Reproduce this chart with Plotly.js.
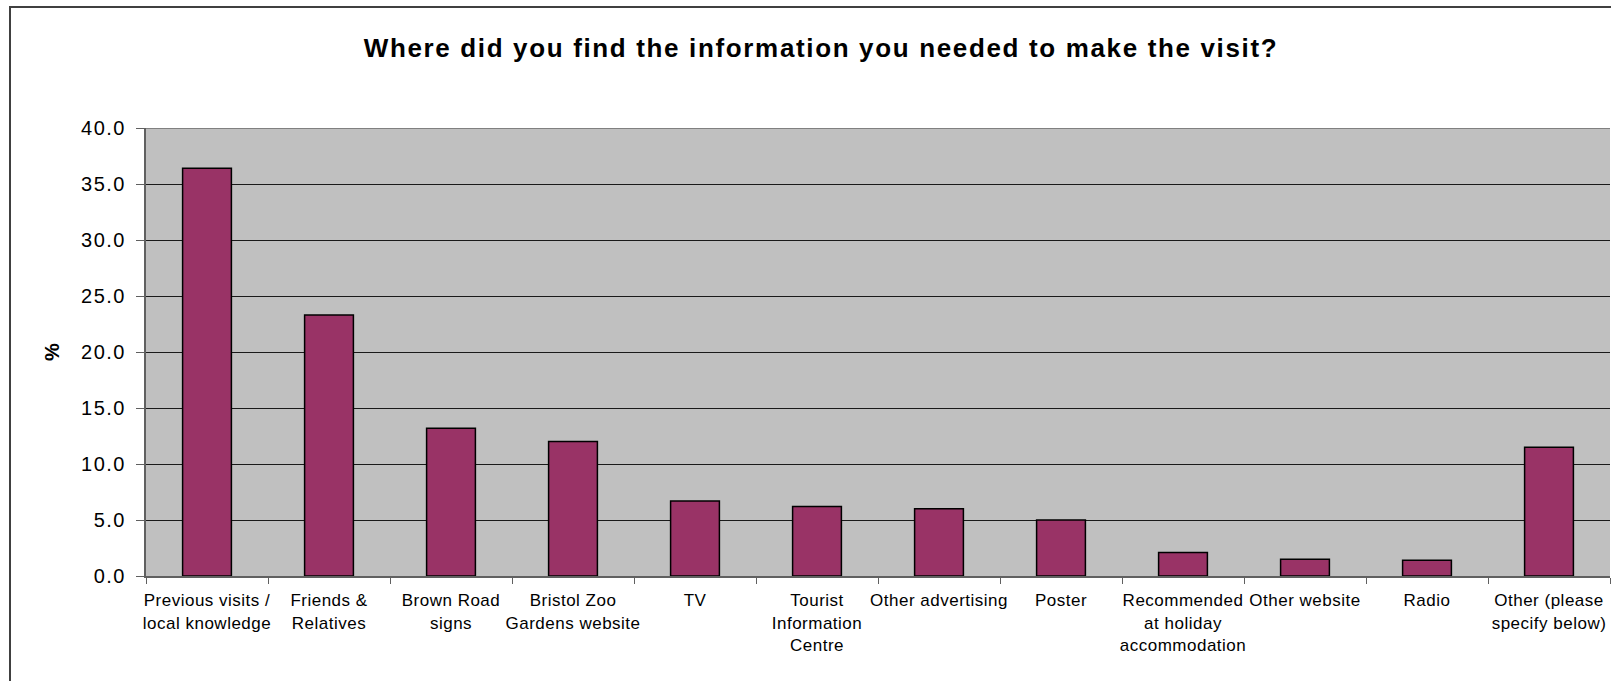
<!DOCTYPE html>
<html>
<head>
<meta charset="utf-8">
<script src="https://cdn.plot.ly/plotly-3.0.1.min.js"></script>
<style>
  html, body { margin: 0; padding: 0; overflow: hidden; background: #fff; }
  #wrap { position: relative; width: 1611px; height: 681px; overflow: hidden; }
  #chart { position: absolute; left: 0; top: 0; width: 1611px; height: 681px; }
  #frame { position: absolute; left: 9px; top: 6px; width: 1700px; height: 800px;
           border: 2px solid #404040; pointer-events: none; }
  .xtick text { letter-spacing: 0.5px; }
  .ytick text { letter-spacing: 1.5px; }
  .gtitle { letter-spacing: 1.65px; }
</style>
</head>
<body>
<div id="wrap">
  <div id="chart"></div>
  <div id="frame"></div>
</div>
<script>
const categories = [
  "Previous visits / local knowledge",
  "Friends & Relatives",
  "Brown Road signs",
  "Bristol Zoo Gardens website",
  "TV",
  "Tourist Information Centre",
  "Other advertising",
  "Poster",
  "Recommended at holiday accommodation",
  "Other website",
  "Radio",
  "Other (please specify below)"
];
const tickLabels = [
  "Previous visits /<br>local knowledge",
  "Friends &<br>Relatives",
  "Brown Road<br>signs",
  "Bristol Zoo<br>Gardens website",
  "TV",
  "Tourist<br>Information<br>Centre",
  "Other advertising",
  "Poster",
  "Recommended<br>at holiday<br>accommodation",
  "Other website",
  "Radio",
  "Other (please<br>specify below)"
];
const percentValues = [36.4, 23.3, 13.2, 12.0, 6.7, 6.2, 6.0, 5.0, 2.1, 1.5, 1.4, 11.5];
const yTickValues = [0, 5, 10, 15, 20, 25, 30, 35, 40];

const font = "Liberation Sans, Arial, sans-serif";

const trace = {
  type: "bar",
  x: categories,
  y: percentValues,
  marker: { color: "#993366", line: { color: "#000000", width: 1.5 } },
  hoverinfo: "x+y"
};

const layout = {
  width: 1611,
  height: 681,
  margin: { l: 146, r: 1, t: 128, b: 105 },
  paper_bgcolor: "#ffffff",
  plot_bgcolor: "#c0c0c0",
  bargap: 0.6,
  showlegend: false,
  title: {
    text: "<b>Where did you find the information you needed to make the visit?</b>",
    font: { family: font, size: 26, color: "#000" },
    x: 821 / 1611, xanchor: "center",
    y: 1 - 48 / 681, yanchor: "middle"
  },
  xaxis: {
    type: "category",
    tickvals: categories,
    ticktext: tickLabels,
    tickson: "boundaries",
    ticks: "outside",
    ticklen: 6,
    tickwidth: 1,
    tickcolor: "#606060",
    showline: true,
    linecolor: "#606060",
    linewidth: 2,
    showgrid: false,
    zeroline: false,
    tickangle: 0,
    tickfont: { family: font, size: 17, color: "#000" },
    ticklabelstandoff: 8
  },
  yaxis: {
    range: [0, 40],
    tickvals: yTickValues,
    tickformat: ".1f",
    ticks: "outside",
    ticklen: 8,
    tickwidth: 1,
    tickcolor: "#606060",
    showline: true,
    linecolor: "#606060",
    linewidth: 2,
    showgrid: true,
    gridcolor: "#1a1a1a",
    gridwidth: 1,
    zeroline: false,
    tickfont: { family: font, size: 20, color: "#000" },
    ticklabelstandoff: 6,
    title: {
      text: "<b>%</b>",
      font: { family: font, size: 20, color: "#000" },
      standoff: 16
    }
  },
  shapes: [{
    type: "line", xref: "paper", yref: "y",
    x0: 0, x1: 1, y0: 40, y1: 40,
    line: { color: "#808080", width: 2 }
  }]
};

Plotly.newPlot("chart", [trace], layout, { displayModeBar: false, staticPlot: true });
</script>
</body>
</html>
